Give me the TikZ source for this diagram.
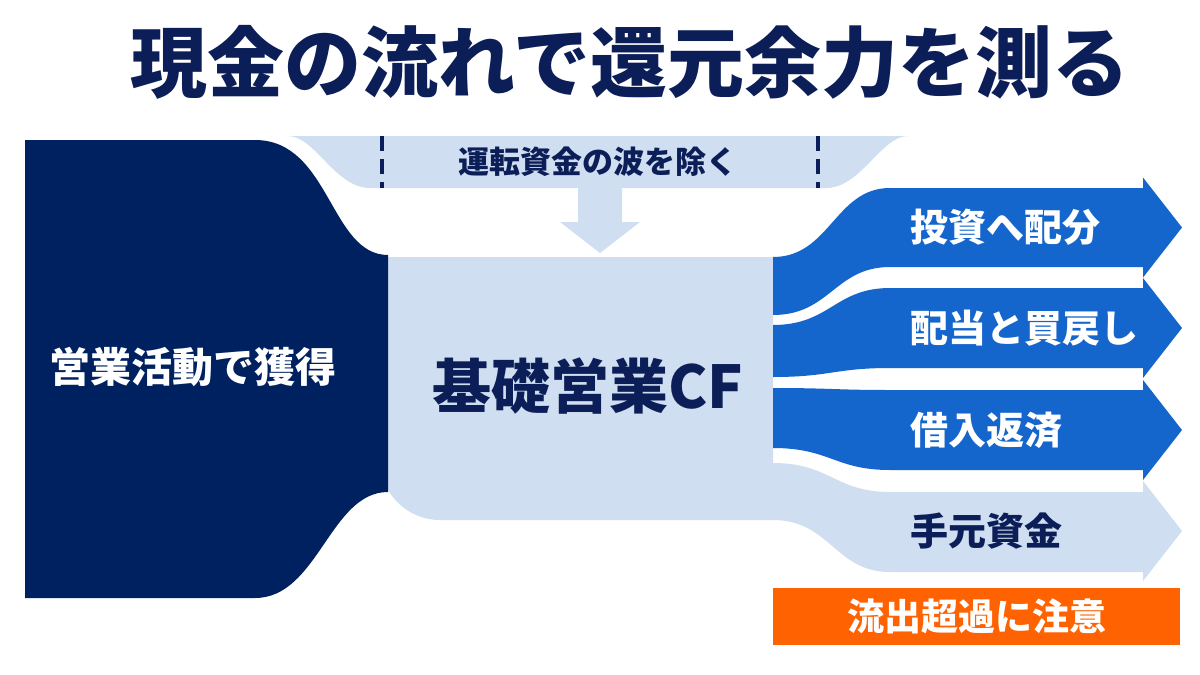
\documentclass[tikz,border=0pt]{standalone}
\usepackage{fontspec}
\setmainfont{Noto Sans CJK JP}
\definecolor{deepnavy}{RGB}{0,33,96}
\definecolor{inknavy}{RGB}{12,30,88}
\definecolor{paleblue}{RGB}{207,222,240}
\definecolor{flowblue}{RGB}{20,102,204}
\definecolor{alertorange}{RGB}{255,98,0}

\begin{document}
\begin{tikzpicture}[x=1pt,y=-1pt,
    bandlabel/.style={font=\bfseries\fontsize{38}{40}\selectfont, inner sep=0pt, anchor=west}]
\useasboundingbox[fill=white] (0,0) rectangle (1200,675);

% title
\node[text=inknavy, font=\bfseries\fontsize{77}{80}\selectfont] (title) at (630,62) {現金の流れで還元余力を測る};

% working capital band with drop arrow
\fill[paleblue] (288,136) -- (908,136) .. controls (881,136) and (861,188) .. (826,188)
    -- (370,188) .. controls (335,188) and (315,136) .. (288,136) -- cycle;
\foreach \dx in {382,818}
    \draw[inknavy, line width=3.5pt, dash pattern=on 15pt off 8pt] (\dx,136) -- (\dx,188);
\node[text=inknavy, font=\bfseries\fontsize{31}{33}\selectfont] (wcwave) at (598,162) {運転資金の波を除く};
\fill[paleblue] (578,188) -- (622,188) -- (622,222) -- (640,222) -- (600,253) -- (560,222) -- (578,222) -- cycle;

% base operating cash flow block
\fill[paleblue] (380,257) -- (773,257) -- (773,520) -- (440,520) .. controls (407,520) and (380,493) .. (380,460) -- cycle;
\node[text=inknavy, font=\bfseries\fontsize{59}{61}\selectfont] (basecf) at (588,386) {基礎営業CF};

% operating inflow block
\fill[deepnavy] (25,140) -- (255,140) .. controls (330,140) and (330,255) .. (388,255)
    -- (388,492) .. controls (330,492) and (318,598) .. (255,598) -- (25,598) -- cycle;
\node[text=white, font=\bfseries\fontsize{41}{44}\selectfont] (ops) at (193,367) {営業活動で獲得};

% outflow bands
\foreach \lt/\lb/\rt/\rb/\c/\col/\nm/\txt/\tc in {
    257/315/188/267/227.5/flowblue/inv/投資へ配分/white,
    325/377/288/368/328/flowblue/payout/配当と買戻し/white,
    388/448/390/470/430/flowblue/debt/借入返済/white,
    463/520/492/572/531/paleblue/cash/手元資金/inknavy}{
  \fill[\col] (773,\lt) .. controls (830,\lt) and (835,\rt) .. (890,\rt) -- (1143,\rt)
      -- (1143,{\c-50}) -- (1182,\c) -- (1143,{\c+50}) -- (1143,\rb)
      -- (890,\rb) .. controls (835,\rb) and (830,\lb) .. (773,\lb) -- cycle;
  \node[bandlabel, text=\tc] (\nm) at (910,\c) {\txt};
}

% warning
\node[fill=alertorange, minimum width=407pt, minimum height=57pt, inner sep=0pt, text=white,
    font=\bfseries\fontsize{37}{39}\selectfont] (warn) at (976.5,616.5) {流出超過に注意};
\end{tikzpicture}
\end{document}
